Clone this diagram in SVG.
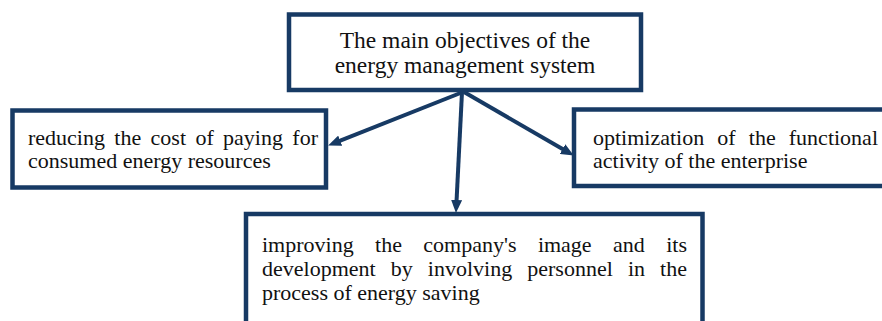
<svg xmlns="http://www.w3.org/2000/svg" width="882" height="321" viewBox="0 0 882 321">
  <style>
    .box { fill: #ffffff; stroke: #173a64; stroke-width: 4.5; }
    .t { font-family: "Liberation Serif", "Times New Roman", serif; font-size: 22px; fill: #111111; }
    .tt { font-family: "Liberation Serif", "Times New Roman", serif; font-size: 23.5px; fill: #111111; text-anchor: middle; }
    .conn { stroke: #173a64; stroke-width: 4; fill: none; stroke-linecap: butt; }
  </style>
  <defs>
    <marker id="arr" markerUnits="userSpaceOnUse" markerWidth="13" markerHeight="11" viewBox="0 0 13 11" refX="4" refY="5.5" orient="auto">
      <path d="M0,0 L13,5.5 L0,11 z" fill="#173a64"/>
    </marker>
  </defs>
  <rect width="882" height="321" fill="#ffffff"/>

  <g id="connectors">
    <line class="conn" x1="463" y1="92" x2="336.5" y2="142.2" marker-end="url(#arr)"/>
    <line class="conn" x1="464" y1="92" x2="566" y2="151.1" marker-end="url(#arr)"/>
    <line class="conn" x1="462" y1="92" x2="456.4" y2="204" marker-end="url(#arr)"/>
  </g>

  <g id="node-main">
    <rect class="box" x="289" y="14.5" width="352" height="75.5" stroke-width="5"/>
    <text class="tt" x="465" y="48">The main objectives of the</text>
    <text class="tt" x="465" y="72.5">energy management system</text>
  </g>

  <g id="node-cost">
    <rect class="box" x="12.5" y="110.5" width="313.5" height="77"/>
    <text class="t" x="28" y="145">reducing</text>
    <text class="t" x="114.35" y="145">the</text>
    <text class="t" x="150.6" y="145">cost</text>
    <text class="t" x="195.41" y="145">of</text>
    <text class="t" x="223.11" y="145">paying</text>
    <text class="t" x="292.36" y="145">for</text>
    <text class="t" x="28" y="168">consumed energy resources</text>
  </g>

  <g id="node-optimization">
    <rect class="box" x="574" y="109.5" width="320" height="76.5"/>
    <text class="t" x="593" y="145">optimization</text>
    <text class="t" x="717.35" y="145">of</text>
    <text class="t" x="748.8" y="145">the</text>
    <text class="t" x="788.8" y="145">functional</text>
    <text class="t" x="593" y="168">activity of the enterprise</text>
  </g>

  <g id="node-image">
    <rect class="box" x="246" y="214" width="456.5" height="120"/>
    <text class="t" x="262" y="251.5">improving</text>
    <text class="t" x="375.06" y="251.5">the</text>
    <text class="t" x="423.33" y="251.5">company's</text>
    <text class="t" x="537.89" y="251.5">image</text>
    <text class="t" x="613.05" y="251.5">and</text>
    <text class="t" x="666.21" y="251.5">its</text>
    <text class="t" x="262" y="275.5">development</text>
    <text class="t" x="390.74" y="275.5">by</text>
    <text class="t" x="427.83" y="275.5">involving</text>
    <text class="t" x="527.27" y="275.5">personnel</text>
    <text class="t" x="627.9" y="275.5">in</text>
    <text class="t" x="660.11" y="275.5">the</text>
    <text class="t" x="262" y="299.5">process of energy saving</text>
  </g>
</svg>
